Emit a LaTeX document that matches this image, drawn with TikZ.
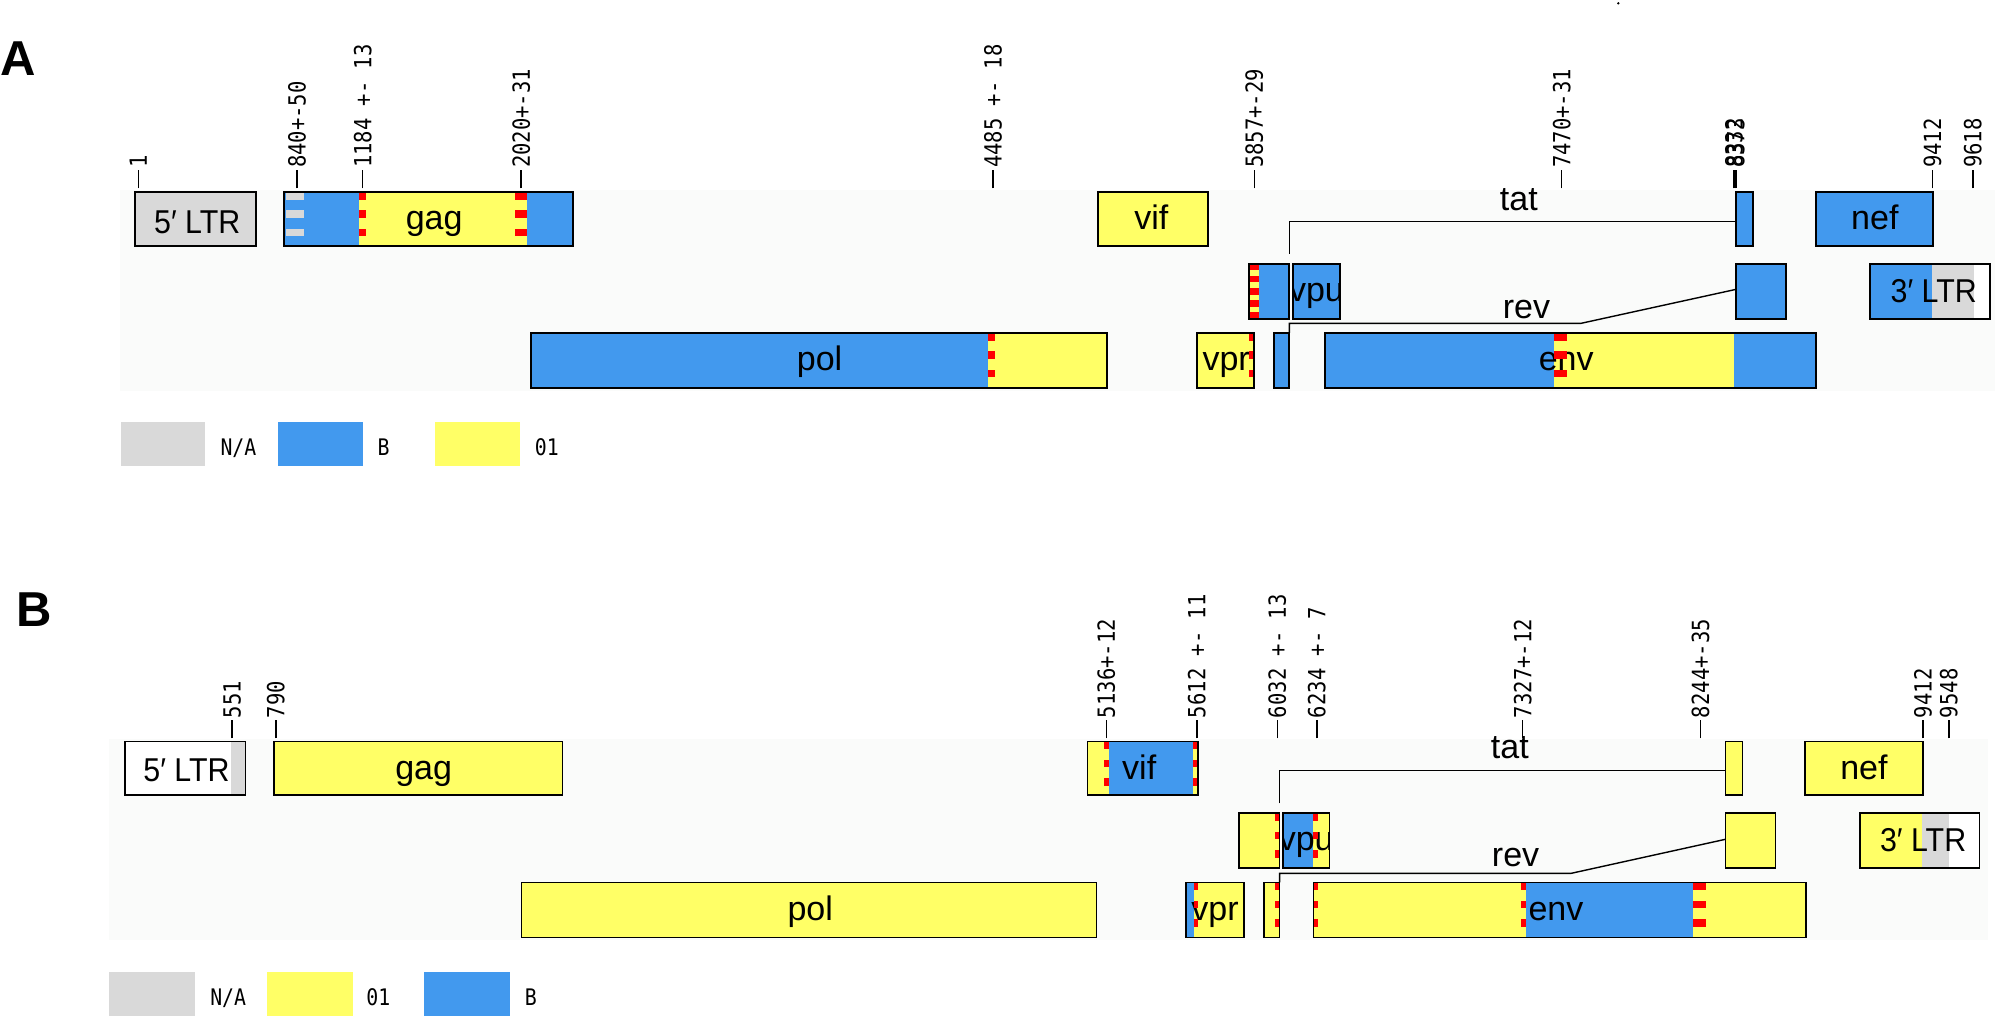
\documentclass[tikz,border=0pt]{standalone}
\usepackage{fontspec}
\setmainfont{Liberation Sans}
\newfontfamily\tickfont[FakeStretch=0.87]{DejaVu Sans Mono}
\newfontfamily\ltrfont[FakeStretch=0.92]{Liberation Sans}
\usetikzlibrary{fit}
\definecolor{cblue}{HTML}{4299EE}
\definecolor{cyel}{HTML}{FFFF66}
\definecolor{cgray}{HTML}{D9D9D9}
\definecolor{cbg}{HTML}{FAFBFA}
\definecolor{cred}{HTML}{FF0000}
\tikzset{
  gbox/.style={draw=black, line width=0.85pt, inner sep=0pt, outer sep=0pt},
  glab/.style={font=\fontsize{17}{17}\selectfont, anchor=base, inner sep=0pt},
  ltrlab/.style={font=\ltrfont\fontsize{16.5}{16.5}\selectfont, anchor=base, inner sep=0pt},
  ticklab/.style={font=\tickfont\fontsize{11.8}{11.8}\selectfont, rotate=90, anchor=west, inner sep=0pt},
  tickln/.style={line width=0.75pt},
  conn/.style={line width=0.7pt},
  leglab/.style={font=\tickfont\fontsize{11.4}{11.4}\selectfont, anchor=base west, inner sep=0pt},
  panel/.style={font=\bfseries\fontsize{24.5}{24.5}\selectfont, anchor=base west, inner sep=0pt},
}
\newcommand\dsh[4]{\foreach \o in {0,14.3,28.6}{\fill[#4] (#1,#3+\o) rectangle (#2,#3+\o+6);}}
\newcommand\tickA[3]{\draw[tickln] (#1,147) -- (#1,132.8); \node[ticklab] (#3) at (#1,131.5) {#2};}
\newcommand\tickB[3]{\draw[tickln] (#1,576.5) -- (#1,562.2); \node[ticklab] (#3) at (#1,561) {#2};}
\begin{document}
\begin{tikzpicture}[x=0.64pt,y=-0.64pt]
\useasboundingbox (0,0) rectangle (1568,794);
\fill[white] (0,0) rectangle (1568,794);
\fill[black] (1263.7,2.6) circle (1);
% ================= PANEL A =================
\node[panel] (pA) at (0,58.6) {A};
\fill[cbg] (94,148) rectangle (1558,305);
% fills row 1
\fill[cgray] (105.6,150) rectangle (199.8,192);
\fill[cblue] (222,150) rectangle (280.6,192);
\fill[cyel] (280.6,150) rectangle (411.3,192);
\fill[cblue] (411.3,150) rectangle (447.2,192);
\fill[cyel] (857.2,150) rectangle (943.3,192);
\fill[cblue] (1355.4,150) rectangle (1368.8,192);
\fill[cblue] (1417.8,150) rectangle (1509.6,192);
% fills row 2
\fill[cyel] (975.3,206) rectangle (983.4,249);
\fill[cblue] (983.4,206) rectangle (1006.8,249);
\fill[cblue] (1009.6,206) rectangle (1046.2,249);
\fill[cblue] (1355.4,206) rectangle (1394.9,249);
\fill[cblue] (1460,206) rectangle (1508.7,249);
\fill[cgray] (1508.7,206) rectangle (1541.6,249);
\fill[white] (1541.6,206) rectangle (1554,249);
% fills row 3
\fill[cblue] (414.8,260) rectangle (771.8,303);
\fill[cyel] (771.8,260) rectangle (864.2,303);
\fill[cyel] (934.6,260) rectangle (979.2,303);
\fill[cblue] (994.9,260) rectangle (1006.8,303);
\fill[cblue] (1034.6,260) rectangle (1213.7,303);
\fill[cyel] (1213.7,260) rectangle (1354.3,303);
\fill[cblue] (1354.3,260) rectangle (1418.2,303);
% labels
\node[ltrlab] (l5A) at (154,182) {5′ LTR};
\node[glab] (gagAl) at (339,179.5) {gag};
\node[glab] (vifAl) at (899,179.5) {vif};
\node[glab] (nefAl) at (1464,179.5) {nef};
\begin{scope}
\clip (1009.6,206) rectangle (1046.2,249);
\node[glab] (vpuAl) at (1028,235.5) {vpu};
\end{scope}
\node[ltrlab] (l3A) at (1510,236) {3′ LTR};
\node[glab] (polAl) at (640,289.5) {pol};
\node[glab] (vprAl) at (957.5,289.5) {vpr};
\node[glab] (envAl) at (1223,289.5) {env};
\node[glab] (tatAl) at (1186,164) {tat};
\node[glab] (revAl) at (1192,248.6) {rev};
% dashes
\dsh{223.3}{237.4}{150}{cgray}
\dsh{280.6}{285.8}{150}{cred}
\dsh{402.2}{411.3}{150}{cred}
\foreach \o in {0,9.5,19,28.5,38}{\fill[cred] (975.3,206+\o) rectangle (983.4,206+\o+5);}
\dsh{771.8}{776.7}{260}{cred}
\dsh{975}{979.2}{260}{cred}
\dsh{1213.7}{1224}{260}{cred}
% borders
\node[gbox, fit={(105.6,150) (199.8,192)}] (ltr5A) {};
\node[gbox, fit={(222,150) (447.2,192)}] (gagA) {};
\node[gbox, fit={(857.2,150) (943.3,192)}] (vifA) {};
\node[gbox, fit={(1355.4,150) (1368.8,192)}] (tat2A) {};
\node[gbox, fit={(1417.8,150) (1509.6,192)}] (nefA) {};
\node[gbox, fit={(975.3,206) (1006.8,249)}] (tat1A) {};
\node[gbox, fit={(1009.6,206) (1046.2,249)}] (vpuA) {};
\node[gbox, fit={(1355.4,206) (1394.9,249)}] (rev2A) {};
\node[gbox, fit={(1460,206) (1554,249)}] (ltr3A) {};
\node[gbox, fit={(414.8,260) (864.2,303)}] (polA) {};
\node[gbox, fit={(934.6,260) (979.2,303)}] (vprA) {};
\node[gbox, fit={(994.9,260) (1006.8,303)}] (rev1A) {};
\node[gbox, fit={(1034.6,260) (1418.2,303)}] (envA) {};
% connectors
\coordinate (tatA1) at (1006.8,198);
\coordinate (tatA2) at (1355.4,173);
\draw[conn] (tatA1) |- (tatA2);
\coordinate (revA1) at (1006.8,260);
\coordinate (revA2) at (1234.5,252.5);
\coordinate (revA3) at (1355.4,226);
\draw[conn] (revA1) |- (revA2) -- (revA3);
% ticks
\tickA{108}{1}{tA1}
\tickA{232}{840+-50}{tA2}
\tickA{283.2}{1184 +- 13}{tA3}
\tickA{407}{2020+-31}{tA4}
\tickA{775.5}{4485 +- 18}{tA5}
\tickA{979.5}{5857+-29}{tA6}
\tickA{1219.5}{7470+-31}{tA7}
\tickA{1354}{8332}{tA8}
\tickA{1355.5}{8373}{tA9}
\tickA{1509}{9412}{tA10}
\tickA{1540.5}{9618}{tA11}
% legend
\fill[cgray] (94.1,329.5) rectangle (160.4,364);
\fill[cblue] (216.8,329.5) rectangle (283.1,364);
\fill[cyel] (339.9,329.5) rectangle (406.1,364);
\node[leglab] (lgA1) at (171.9,355.3) {N/A};
\node[leglab] (lgA2) at (294.6,355.3) {B};
\node[leglab] (lgA3) at (417.3,355.3) {01};
% ================= PANEL B =================
\node[panel] (pB) at (12.9,489.4) {B};
\fill[cbg] (85.4,577) rectangle (1552,734);
% fills row 1
\fill[white] (97.6,579) rectangle (191.7,621);
\fill[cgray] (180.6,579) rectangle (191.7,621);
\fill[cyel] (213.7,579) rectangle (439.2,621);
\fill[cyel] (849.2,579) rectangle (865.7,621);
\fill[cblue] (865.7,579) rectangle (931.8,621);
\fill[cyel] (931.8,579) rectangle (935.7,621);
\fill[cyel] (1347.3,579) rectangle (1360.7,621);
\fill[cyel] (1409.3,579) rectangle (1501.7,621);
% fills row 2
\fill[cyel] (967.7,635) rectangle (999.2,678);
\fill[cblue] (1001.9,635) rectangle (1025.6,678);
\fill[cyel] (1025.6,635) rectangle (1038.2,678);
\fill[cyel] (1347.3,635) rectangle (1386.4,678);
\fill[cyel] (1452.4,635) rectangle (1501,678);
\fill[cgray] (1501,635) rectangle (1521.8,678);
\fill[white] (1521.8,635) rectangle (1545.8,678);
% fills row 3
\fill[cyel] (407.2,689) rectangle (856.2,732);
\fill[cblue] (925.9,689) rectangle (932.2,732);
\fill[cyel] (932.2,689) rectangle (971.2,732);
\fill[cyel] (986.9,689) rectangle (999.2,732);
\fill[cyel] (1025.7,689) rectangle (1191.5,732);
\fill[cblue] (1191.5,689) rectangle (1321.9,732);
\fill[cyel] (1321.9,689) rectangle (1410,732);
% labels
\node[ltrlab] (l5B) at (145.6,610.5) {5′ LTR};
\node[glab] (gagBl) at (330.8,608.5) {gag};
\node[glab] (vifBl) at (889.6,608.5) {vif};
\node[glab] (nefBl) at (1455.5,608.5) {nef};
\begin{scope}
\clip (1001.9,635) rectangle (1038.2,678);
\node[glab] (vpuBl) at (1020,664.5) {vpu};
\end{scope}
\node[ltrlab] (l3B) at (1501.7,665) {3′ LTR};
\node[glab] (polBl) at (632.7,718.5) {pol};
\node[glab] (vprBl) at (948.8,718.5) {vpr};
\node[glab] (envBl) at (1215,718.5) {env};
\node[glab] (tatBl) at (1179,592.2) {tat};
\node[glab] (revBl) at (1183.5,676.8) {rev};
% dashes
\dsh{862.1}{865.7}{579}{cred}
\dsh{931.8}{935}{579}{cred}
\dsh{995.3}{999.2}{635}{cred}
\dsh{1025.6}{1029.1}{635}{cred}
\dsh{932.2}{935.7}{689}{cred}
\dsh{995.3}{999.2}{689}{cred}
\dsh{1025.7}{1029.3}{689}{cred}
\dsh{1187.9}{1191.5}{689}{cred}
\dsh{1321.9}{1331.8}{689}{cred}
% borders
\node[gbox, fit={(97.6,579) (191.7,621)}] (ltr5B) {};
\node[gbox, fit={(213.7,579) (439.2,621)}] (gagB) {};
\node[gbox, fit={(849.2,579) (935.7,621)}] (vifB) {};
\node[gbox, fit={(1347.3,579) (1360.7,621)}] (tat2B) {};
\node[gbox, fit={(1409.3,579) (1501.7,621)}] (nefB) {};
\node[gbox, fit={(967.7,635) (999.2,678)}] (tat1B) {};
\node[gbox, fit={(1001.9,635) (1038.2,678)}] (vpuB) {};
\node[gbox, fit={(1347.3,635) (1386.4,678)}] (rev2B) {};
\node[gbox, fit={(1452.4,635) (1545.8,678)}] (ltr3B) {};
\node[gbox, fit={(407.2,689) (856.2,732)}] (polB) {};
\node[gbox, fit={(925.9,689) (971.2,732)}] (vprB) {};
\node[gbox, fit={(986.9,689) (999.2,732)}] (rev1B) {};
\node[gbox, fit={(1025.7,689) (1410,732)}] (envB) {};
% connectors
\coordinate (tatB1) at (999.2,627.3);
\coordinate (tatB2) at (1347.3,601.5);
\draw[conn] (tatB1) |- (tatB2);
\coordinate (revB1) at (999.2,689);
\coordinate (revB2) at (1226.7,682);
\coordinate (revB3) at (1347.3,655.4);
\draw[conn] (revB1) |- (revB2) -- (revB3);
% ticks
\tickB{181.3}{551}{tB1}
\tickB{215.4}{790}{tB2}
\tickB{863.9}{5136+-12}{tB3}
\tickB{934.6}{5612 +- 11}{tB4}
\tickB{997.4}{6032 +- 13}{tB5}
\tickB{1028.3}{6234 +- 7}{tB6}
\tickB{1189}{7327+-12}{tB7}
\tickB{1327.9}{8244+-35}{tB8}
\tickB{1501.7}{9412}{tB9}
\tickB{1521.8}{9548}{tB10}
% legend
\fill[cgray] (85.4,759) rectangle (152.4,793);
\fill[cyel] (208.5,759) rectangle (275.7,793);
\fill[cblue] (331.3,759) rectangle (398.3,793);
\node[leglab] (lgB1) at (163.9,784.8) {N/A};
\node[leglab] (lgB2) at (285.8,784.8) {01};
\node[leglab] (lgB3) at (409.6,784.8) {B};
\end{tikzpicture}
\end{document}
